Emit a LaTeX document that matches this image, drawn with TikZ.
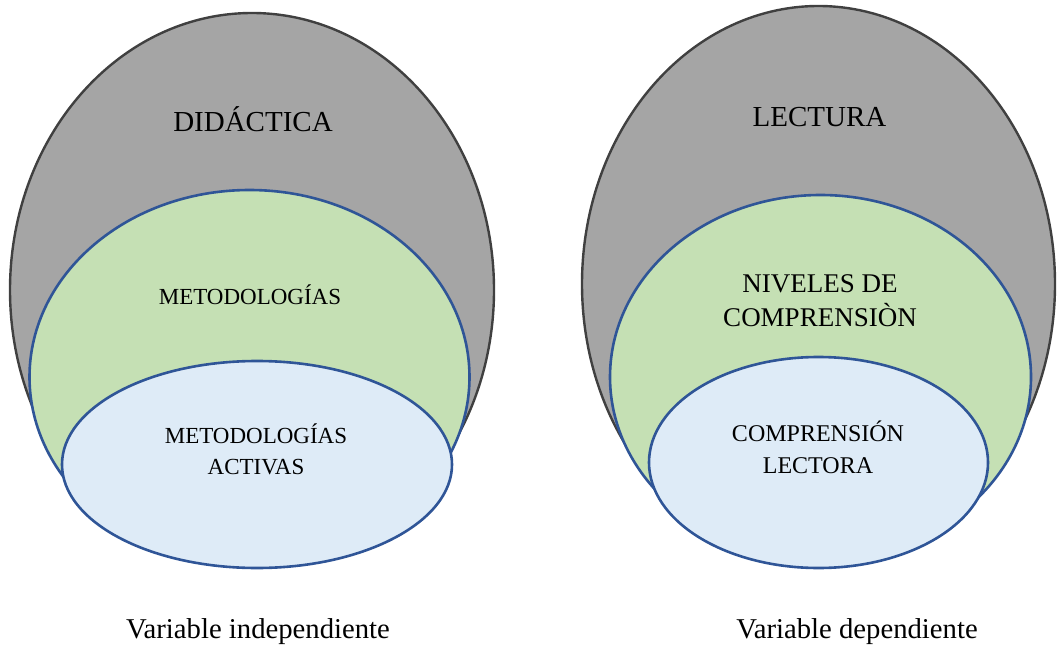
\documentclass[tikz,border=0pt]{standalone}
\usepackage{fontspec}
\setmainfont{Liberation Serif}
\usepackage{xcolor}
\usepackage{tikz}
\definecolor{grisfondo}{HTML}{A5A5A5}
\definecolor{grisborde}{HTML}{404040}
\definecolor{verdefondo}{HTML}{C5E0B4}
\definecolor{azulfondo}{HTML}{DEEBF7}
\definecolor{azulborde}{HTML}{2F5597}

\begin{document}
\begin{tikzpicture}[x=1pt, y=-1pt, every node/.style={inner sep=0pt, anchor=base},
    titulo/.style={font=\fontsize{29}{34}\selectfont},
    texto/.style={font=\fontsize{23}{28}\selectfont},
    pie/.style={font=\fontsize{28.7}{33}\selectfont}]
      \useasboundingbox (0,0) rectangle (1057,647);
      \foreach \cx/\cy/\rx/\ry in {252/290/242/277, 818.5/284/236.5/278}
      \filldraw[fill=grisfondo, draw=grisborde, line width=2.4pt] (\cx,\cy) ellipse [x radius=\rx pt, y radius=\ry pt];
      \foreach \cx/\cy/\rx/\ry in {249.5/377/220/187, 820.5/377/210.5/182}
      \filldraw[fill=verdefondo, draw=azulborde, line width=2.6pt] (\cx,\cy) ellipse [x radius=\rx pt, y radius=\ry pt];
      \foreach \cx/\cy/\rx/\ry in {257/464.5/195/103.5, 818.5/462.5/169.5/105.5}
      \filldraw[fill=azulfondo, draw=azulborde, line width=2.6pt] (\cx,\cy) ellipse [x radius=\rx pt, y radius=\ry pt];
      \node[titulo] (didactica) at (253,132) {DIDÁCTICA};
      \node[texto] (metodo) at (250,304) {METODOLOGÍAS};
      \node[texto] (activas1) at (256,443) {METODOLOGÍAS};
      \node[texto] (activas2) at (256,474) {ACTIVAS};
      \node[titulo] (lectura) at (819.5,127) {LECTURA};
      \node[texto, font=\fontsize{27}{32}\selectfont] (niveles1) at (820,292) {NIVELES DE};
      \node[texto, font=\fontsize{27}{32}\selectfont] (niveles2) at (820,326) {COMPRENSIÒN};
      \node[texto, font=\fontsize{24}{29}\selectfont] (comp1) at (818,441) {COMPRENSIÓN};
      \node[texto, font=\fontsize{24}{29}\selectfont] (comp2) at (818,473) {LECTORA};
      \node[pie] (indep) at (258,638) {Variable independiente};
      \node[pie] (dep) at (857,638) {Variable dependiente};
    \end{tikzpicture}
\end{document}
